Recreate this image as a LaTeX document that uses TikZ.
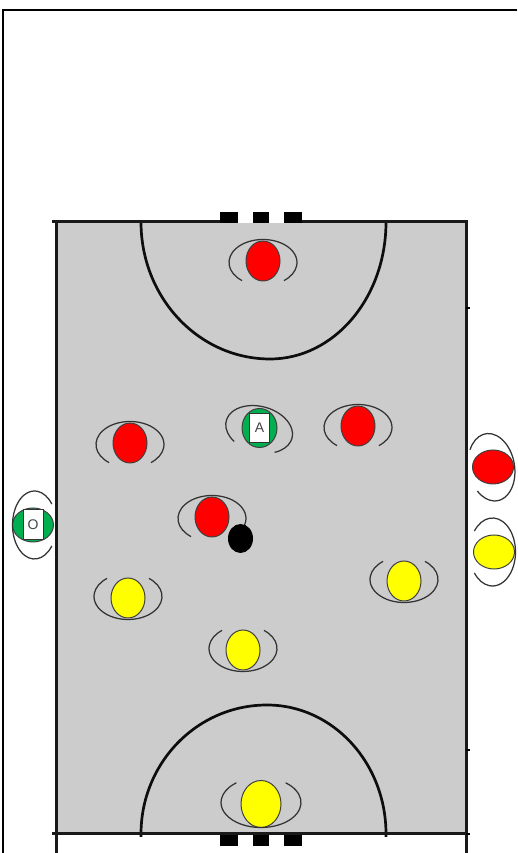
\documentclass[tikz,border=0pt]{standalone}
\usepackage{fontspec}
\setmainfont{Liberation Sans}
\usetikzlibrary{shapes.geometric,positioning}
\definecolor{CourtGrey}{RGB}{204,204,204}
\definecolor{TeamRed}{RGB}{255,0,0}
\definecolor{TeamYellow}{RGB}{255,255,0}
\definecolor{RefGreen}{RGB}{0,176,80}
\definecolor{BibText}{RGB}{70,70,70}
\newcommand{\bow}[5][]{\draw[bow,#1,shift={(#2.center)},rotate=#3,yshift=-1.5pt] (232:#4 and #5) arc[start angle=232,end angle=-52,x radius=#4pt,y radius=#5pt];}
\begin{document}
\begin{tikzpicture}[x=1pt,y=1pt,
  courtline/.style={line width=3pt,black!90},
  goalline/.style={line width=2.7pt,black!95},
  bow/.style={line width=1.25pt,black!80},
  player/.style={ellipse,draw=black!75,line width=1pt,inner sep=0pt,minimum width=34pt,minimum height=40pt},
  sideplayer/.style={player,minimum width=41pt,minimum height=34pt},
  bib/.style={draw=black!80,fill=white,line width=1pt,inner sep=0pt,minimum width=20.5pt,minimum height=29.5pt,font=\fontsize{14}{14}\selectfont,text=BibText},
  black seg/.style={fill=black,draw=none,inner sep=0pt,minimum height=11pt},
]
\useasboundingbox (0,0) rectangle (517,853);
% page frame
\draw[line width=2.2pt,black] (3,0) -- (3,843) -- (517,843);
% court
\fill[CourtGrey] (56,19) rectangle (466,631);
\draw[goalline] (141,631) .. controls (141,555) and (199,494) .. (270,494) .. controls (334,494) and (386,555) .. (386,631);
\draw[goalline] (141,16) -- (141,19) .. controls (141,90) and (197,148) .. (267,148) .. controls (333,148) and (386,90) .. (386,19) -- (386,16);
\draw[courtline] (52,631) -- (468,631);
\draw[courtline] (52,19) -- (468,19);
\draw[courtline] (56,632) -- (56,0);
\draw[courtline] (466,632) -- (466,0);
\draw[line width=1.5pt,black] (466,545) -- (470,545);
\draw[line width=1.5pt,black] (466,103) -- (470,103);
\draw[line width=1.5pt,black] (466,19) -- (470,19);
% goals
\node[black seg,minimum width=18pt] (gt1) at (229,635) {};
\node[black seg,minimum width=15pt,fill=white] (gt2) at (245.5,635) {};
\node[black seg,minimum width=16pt] (gt3) at (261,635) {};
\node[black seg,minimum width=15pt,fill=white] (gt4) at (276.5,635) {};
\node[black seg,minimum width=18pt] (gt5) at (293,635) {};
\node[black seg,minimum width=18pt] (gb1) at (229,12) {};
\node[black seg,minimum width=15pt,fill=white] (gb2) at (245.5,12) {};
\node[black seg,minimum width=16pt] (gb3) at (261,12) {};
\node[black seg,minimum width=15pt,fill=white] (gb4) at (276.5,12) {};
\node[black seg,minimum width=18pt] (gb5) at (293,12) {};
% red team
\node[player,fill=TeamRed] (redKeeper) at (263,592) {};
\node[player,fill=TeamRed] (redLeft) at (130,410) {};
\node[player,fill=TeamRed] (redRight) at (358,427) {};
\node[player,fill=TeamRed] (redBall) at (212,336) {};
\node[sideplayer,fill=TeamRed] (redSub) at (493,386) {};
% yellow team
\node[player,fill=TeamYellow] (yelLeft) at (128,255) {};
\node[player,fill=TeamYellow] (yelRight) at (404,272) {};
\node[player,fill=TeamYellow] (yelMid) at (243,203) {};
\node[player,fill=TeamYellow,minimum width=40pt,minimum height=47pt] (yelKeeper) at (261,49) {};
\node[sideplayer,fill=TeamYellow] (yelSub) at (494,301) {};
% officials
\node[player,fill=RefGreen,minimum width=35pt,minimum height=39pt] (refA) at (259.5,425) {};
\node[bib] (bibA) at (refA.center) {A};
\node[sideplayer,fill=RefGreen] (refO) at (33,328) {};
\node[bib,minimum width=20pt,minimum height=30pt] (bibO) at (refO.center) {O};
% arms
\bow{redKeeper}{0}{34}{23}
\bow{redLeft}{0}{34}{23}
\bow{redRight}{0}{34}{23}
\bow{redBall}{0}{34}{23}
\bow{redSub}{-80}{34}{23}
\bow{yelLeft}{180}{34}{23}
\bow{yelRight}{180}{34}{23}
\bow{yelMid}{180}{34}{23}
\bow{yelKeeper}{180}{40}{25}
\bow{yelSub}{-90}{34}{23}
\bow{refA}{-15}{34}{23}
\bow{refO}{90}{34}{22}
% ball
\node[ellipse,fill=black,inner sep=0pt,minimum width=25pt,minimum height=29pt] (ball) at (240.5,314.5) {};
\end{tikzpicture}
\end{document}
